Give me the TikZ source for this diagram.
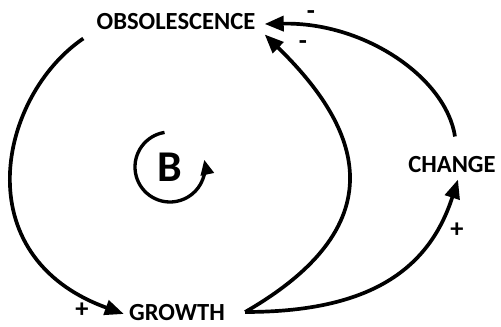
\documentclass[tikz,border=0pt]{standalone}
\usepackage{fontspec}
\setmainfont{Carlito}
\usetikzlibrary{arrows.meta,calc,positioning}
\tikzset{var/.style={font=\fontsize{14}{16}\selectfont\bfseries,inner sep=0pt},
  sgn/.style={font=\fontsize{15}{16}\selectfont\bfseries,inner sep=0pt},
  arr/.style={-{Triangle[length=3.8mm,width=3mm]},line width=2.1pt},
  barr/.style={-{Triangle[length=3mm,width=2.6mm]},line width=1.9pt}}

\begin{document}
\begin{tikzpicture}[x=0.02cm,y=0.02cm]
\useasboundingbox (0,0) rectangle (501,327);
\node[var] (obs) at (176,305) {OBSOLESCENCE};
\node[var] (grow) at (177,14) {GROWTH};
\node[var] (chg) at (452,162) {CHANGE};
\node[font=\fontsize{25}{26}\selectfont\bfseries,inner sep=0pt] (loop) at (170,160) {B};
% balancing loop
\draw[arr] ([shift={(-13,-8)}]obs.south west) .. controls (-1,231) and (-36,71) .. ([shift={(-5,-1)}]grow.west);
\draw[arr] ([shift={(20,1)}]grow.east) .. controls (412,111) and (346,213) .. ([shift={(9,-4)}]obs.south east);
\draw[arr] ([shift={(20,1)}]grow.east) .. controls (365,15) and (428,54) .. ([shift={(6,-6)}]chg.south);
\draw[arr] ([shift={(3,20)}]chg.north) .. controls (446,249) and (365,305) .. ([shift={(9,-2)}]obs.east);
\draw[barr] ([shift={(99:35)}]loop.center) arc[start angle=99,end angle=372,radius=35];
% polarities
\node[sgn] (s1) at (311,312) {-};
\node[sgn] (s2) at (303,282) {-};
\node[sgn] (s3) at (457,97) {+};
\node[sgn] (s4) at (82,17) {+};
\end{tikzpicture}
\end{document}
